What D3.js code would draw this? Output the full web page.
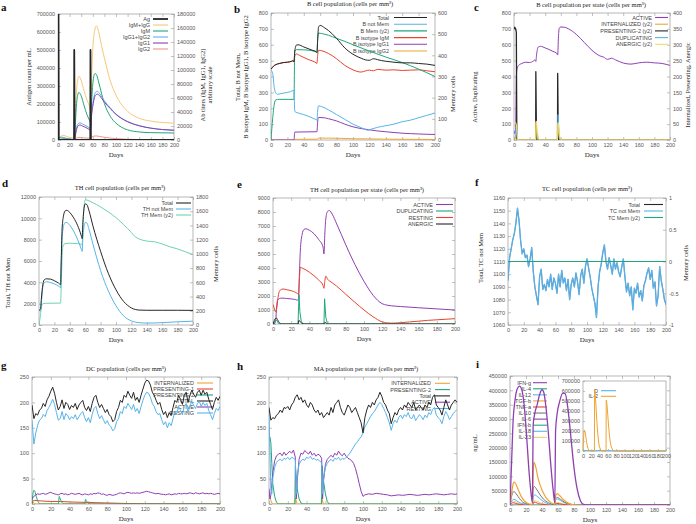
<!DOCTYPE html>
<html>
<head>
<meta charset="utf-8">
<script src="https://cdn.jsdelivr.net/npm/d3@7"></script>
<style>
  body { margin: 0; background: #fff; }
  svg text { font-family: "Liberation Sans", Arial, sans-serif; }
  .serif { font-family: "Liberation Serif", "Times New Roman", serif !important; }
</style>
</head>
<body>
<svg id="fig" width="696" height="524"></svg>
<script>
// ---- shared ticks ----
const dayTicks = d3.range(0, 201, 20)
const noisyDays = d3.range(0, 201, 2)

// ---- a: antigen / antibodies (Ab on y2) ----
const aAg = [[0,0],[0.4,700000],[0.9,700000],[1.4,0],[27.7,0],[28,500000],[28.7,0],[55.7,0],[56,500000],[56.7,0],[200,0]]
const aIgMIgG = [[0,0],[3,3500],[6,6000],[10,6500],[15,5000],[20,3800],[27,2600],[28,2500],[30,40000],[33,80000],[36,91000],[40,85000],[45,70000],[50,57000],[55,46000],[56,42000],[58,90000],[60,130000],[63,155000],[66,163000],[70,155000],[75,135000],[80,117000],[90,85000],[100,64000],[110,50000],[120,41000],[140,31000],[160,27000],[180,25000],[200,24000]]
const aIgM = [[0,0],[3,3000],[6,4000],[10,3200],[15,2200],[20,1400],[28,600],[30,25000],[32,52000],[34,64000],[36,68000],[40,63000],[45,49000],[50,36000],[55,27000],[56,25000],[58,55000],[60,80000],[62,92000],[64,95000],[67,92000],[70,83000],[80,52000],[90,34000],[100,24000],[110,18000],[120,14500],[140,11500],[160,10500],[200,10000]]
const aIgG = [[0,0],[5,1200],[10,1500],[20,1000],[28,800],[30,9000],[32,18000],[35,23500],[38,24500],[42,23000],[50,19500],[55,17000],[56,16500],[58,40000],[60,52000],[63,65000],[66,69000],[68,69500],[72,66000],[80,56000],[90,46000],[100,37000],[110,31000],[120,26500],[140,20500],[160,17000],[180,15000],[200,14000]]
const aIgG1 = [[0,0],[5,1000],[10,1200],[20,800],[28,600],[30,7000],[32,15000],[35,20500],[38,21500],[42,20000],[50,17000],[55,14500],[56,14000],[58,36000],[60,48000],[63,61000],[66,65000],[68,65500],[72,63000],[80,54000],[90,45000],[100,36500],[110,30500],[120,26000],[140,20300],[160,16900],[180,14900],[200,13900]]
const aIgG2 = [[0,0],[10,300],[28,200],[30,2000],[34,3300],[38,3500],[45,3000],[55,2500],[56,2400],[58,4000],[62,5500],[66,5800],[72,5000],[80,3800],[100,2000],[120,1000],[150,500],[200,300]]

// ---- b: B cell population ----
const bTotal = [[0,445],[3,465],[6,475],[10,482],[15,488],[20,490],[25,496],[27,500],[28,492],[29,560],[31,598],[33,600],[40,586],[50,566],[55,556],[56,550],[57,640],[58,712],[60,722],[65,708],[70,690],[80,640],[90,580],[100,540],[110,515],[115,505],[120,502],[125,512],[130,506],[135,500],[140,496],[150,490],[160,486],[170,486],[180,482],[190,478],[200,470]]
const bNotMem = [[0,440],[2,420],[4,330],[6,295],[8,288],[12,292],[16,296],[20,300],[24,305],[27,312],[28,310],[29,180],[32,172],[40,160],[50,140],[55,128],[56,125],[57,190],[58,215],[62,210],[70,190],[80,160],[90,130],[100,100],[110,78],[118,62],[122,68],[130,80],[140,90],[150,100],[160,115],[170,125],[180,140],[190,155],[200,170]]
const bMem = [[0,0],[2,100],[4,170],[6,190],[10,192],[28,192],[29,420],[31,427],[40,426],[50,422],[55,416],[56,415],[57,480],[58,505],[65,500],[70,495],[80,480],[90,466],[100,450],[120,420],[140,392],[160,366],[180,335],[190,318],[200,300]]
const bIgM = [[0,445],[3,465],[6,475],[10,481],[15,487],[20,490],[25,495],[27,500],[28,490],[29,530],[31,542],[35,532],[45,508],[55,486],[56,482],[57,540],[58,565],[62,562],[70,545],[80,512],[90,470],[100,442],[105,432],[110,428],[115,435],[120,440],[125,436],[130,445],[140,440],[150,442],[160,438],[170,440],[180,442],[190,436],[200,430]]
const bIgG1 = [[0,0],[28,0],[29,50],[56,52],[57,120],[58,142],[65,140],[70,134],[80,120],[90,100],[100,83],[110,72],[120,64],[130,57],[140,52],[150,47],[160,43],[170,40],[180,38],[190,36],[200,35]]
const bIgG2 = [[0,0],[28,0],[29,4],[56,5],[58,12],[70,12],[100,8],[150,5],[200,3]]

// ---- c: B cell per state ----
const cActive = [[0,60],[1,40],[2,60],[3,400],[4,450],[6,470],[10,482],[15,490],[20,488],[25,498],[27,505],[28,495],[29,540],[31,585],[34,590],[40,580],[50,558],[55,545],[56,535],[57,650],[58,705],[60,712],[65,710],[70,700],[80,665],[90,615],[100,565],[110,530],[115,522],[120,508],[125,515],[130,505],[140,485],[150,478],[160,486],[170,490],[180,486],[190,482],[200,470]]
const cIntern = [[0,0],[0.5,5],[1,10],[2,5],[4,0],[27.8,0],[28,55],[29,30],[31,5],[33,0],[55.8,0],[56,50],[57,25],[59,3],[61,0],[200,0]]
const cPres2 = [[0,350],[1,355],[2,350],[3,340],[3.6,0],[27.8,0],[28,215],[28.8,0],[55.8,0],[56,210],[56.8,0],[200,0]]
const cDup = [[0,0],[2,20],[3,80],[4,10],[5,0],[27.8,0],[28.5,80],[30,10],[31,0],[55.8,0],[56.5,160],[58,20],[59,0],[200,0]]
const cAnergic = [[0,40],[1,50],[2,55],[3,50],[4,20],[5,0],[27.8,0],[28.5,60],[29.5,40],[31,5],[33,0],[55.8,0],[56.5,55],[57.5,35],[59,5],[61,0],[200,0]]

// ---- d: TH cell population ----
const dTotal = [[0,1400],[2,1500],[3,2400],[5,3800],[7,4250],[10,4330],[15,4300],[20,4150],[25,3950],[28,3800],[29,6500],[30,9000],[32,10300],[34,10700],[36,10750],[40,10550],[45,10050],[50,9350],[55,8350],[56,8100],[57,9600],[58,10600],[60,11350],[62,11300],[65,10700],[70,9300],[80,6900],[90,4850],[100,3300],[110,2200],[120,1600],[130,1400],[140,1380],[160,1380],[180,1380],[200,1370]]
const dNotMem = [[0,1400],[2,1300],[3,2000],[5,3600],[7,3980],[10,4050],[15,3980],[20,3850],[25,3680],[28,3500],[29,6000],[30,8000],[32,9300],[34,9600],[36,9600],[40,9350],[45,8800],[50,8050],[55,7100],[56,6900],[57,8200],[58,9000],[60,9600],[62,9580],[65,8950],[70,7600],[80,5100],[90,3200],[100,1800],[110,850],[120,380],[130,220],[140,180],[160,220],[180,300],[200,360]]
const dMem = [[0,0],[2,150],[3,250],[5,300],[8,305],[28,308],[29,600],[30,950],[31,1100],[33,1140],[40,1150],[50,1145],[55,1135],[56,1120],[57,1400],[58,1600],[59,1720],[60,1760],[70,1720],[80,1660],[90,1590],[100,1510],[110,1410],[120,1300],[125,1240],[130,1210],[140,1180],[150,1170],[160,1140],[170,1100],[180,1070],[190,1030],[200,990]]

// ---- e: TH cell per state ----
const eActive = [[0,0],[2,50],[3,300],[4,1200],[5,1700],[7,1820],[10,1850],[15,1820],[20,1790],[25,1740],[27,1700],[28,1720],[29,3500],[30,5200],[32,6400],[34,6750],[36,6800],[40,6700],[45,6450],[50,6050],[55,5500],[56,5000],[57,6500],[58,7500],[60,8050],[62,8100],[65,7850],[70,7150],[80,5650],[90,4250],[100,3050],[110,2050],[120,1450],[125,1350],[130,1300],[140,1250],[160,1160],[180,1080],[200,1000]]
const eDup = [[0,0],[2,150],[3,300],[4,250],[6,50],[8,0],[27.5,0],[28,1000],[28.6,2100],[29.5,900],[31,200],[33,0],[56,0],[56.7,1800],[58,500],[59.5,100],[61,0],[200,0]]
const eResting = [[0,1400],[2,1000],[3,850],[4,1100],[6,2100],[8,2420],[11,2500],[15,2450],[20,2380],[25,2250],[27,2170],[28,2100],[29,3200],[30,4050],[32,4000],[36,3870],[40,3700],[45,3450],[50,3150],[55,2750],[56,2550],[57,3100],[58,3420],[60,3200],[65,2950],[70,2700],[80,2120],[90,1550],[100,1000],[110,520],[120,150],[125,80],[130,60],[140,90],[150,150],[160,200],[170,260],[180,300],[190,340],[200,380]]
const eAnergic = [[0,0],[1,150],[2,350],[4,420],[5,300],[7,100],[9,0],[27.5,0],[28.5,260],[30,150],[32,40],[34,0],[56,0],[57,120],[59,30],[61,0],[200,0]]

// ---- f: TC cell population (every 2 days) ----
const fNotMem = [1095,1113,1120,1127,1132,1140,1152,1142,1126,1116,1120,1113,1115,1106,1112,1121,1102,1090,1083,1076,
  1098,1104,1088,1092,1087,1096,1090,1100,1088,1097,1093,1085,1100,1090,1103,1093,1097,1087,1096,1080,
  1092,1097,1090,1101,1094,1084,1099,1104,1093,1106,1112,1105,1098,1089,1083,1077,1066,1090,1102,1108,
  1117,1123,1110,1104,1113,1107,1100,1112,1104,1109,1102,1098,1106,1112,1098,1086,1093,1083,1090,1072,
  1089,1085,1093,1082,1087,1079,1091,1095,1101,1105,1096,1103,1089,1094,1075,1083,1106,1095,1088,1080,1076]
const fTotal = fNotMem
const fMem = [[0,0],[200,0]]

// ---- g: DC population (every 2 days) ----
const gTotal = [195,168,178,175,185,188,198,192,205,212,222,230,218,200,185,192,205,188,200,196,
  186,194,190,198,186,195,200,204,190,184,192,182,198,210,214,200,190,196,188,180,
  186,176,172,162,166,182,190,204,200,214,210,222,214,208,220,204,210,200,214,226,
  238,244,242,234,220,214,204,196,200,186,176,182,170,180,174,190,204,200,214,206,
  196,214,220,200,214,224,216,210,220,224,214,224,216,220,206,196,186,200,210,204,212]
const gResting = [165,118,140,155,165,168,176,172,184,190,198,206,196,180,165,168,182,166,178,174,
  166,172,168,176,166,172,178,182,170,162,170,160,176,188,192,178,168,174,166,158,
  164,156,152,144,148,162,168,182,178,192,188,198,192,186,196,182,188,178,192,204,
  214,220,218,210,198,192,182,176,178,166,156,162,150,160,154,168,182,178,192,184,
  176,192,198,180,192,202,194,188,198,202,192,200,194,198,184,176,166,178,188,184,192]
const gActive = [10,15,18,20,19,20,21,19,20,22,23,21,20,19,18,20,21,19,20,18,
  19,21,20,19,20,21,19,18,20,19,18,20,19,21,20,22,21,19,20,18,
  17,19,18,17,18,19,21,22,21,20,22,23,22,21,22,21,22,21,22,23,
  24,25,24,23,22,21,20,21,20,19,19,18,19,20,18,19,20,19,21,20,
  20,21,20,21,22,21,20,22,21,20,21,22,20,21,20,21,20,19,20,21,20]
const gPres2 = [[0,0],[1,20],[2,27],[3,25],[5,12],[7,3],[9,0],[28,0],[29,15],[30,10],[32,3],[34,0],[56,0],[57,9],[58,6],[60,1],[62,0],[200,0]]
const gPres1 = [[0,0],[1,6],[3,7],[10,6],[20,5],[30,5],[40,4],[60,3],[80,2],[100,1],[120,0.5],[200,0]]
const gIntern = [[0,0],[1,4],[2,2],[4,0],[200,0]]

// ---- h: MA population per state ----
const hTotal = [190,165,170,168,175,178,185,180,190,188,192,185,195,200,210,215,205,210,200,205,
  195,190,200,195,185,180,185,175,180,170,175,180,175,190,180,195,200,205,190,180,
  175,185,195,190,180,185,190,180,170,160,140,170,185,195,190,200,195,205,210,220,
  212,200,195,185,178,158,170,180,175,185,190,185,195,190,200,195,190,200,185,190,
  195,190,185,195,190,200,195,210,215,195,190,185,175,190,205,195,185,195,200,205,200]
const hResting = [[0,185],[1,100],[2,30],[3,20],[4,50],[6,72],[8,82],[10,86],[12,88],[14,85],[16,90],[18,88],[20,92],[22,87],[24,92],[26,90],[28,88],[29,20],[30,55],[32,78],[34,85],[36,88],[38,86],[40,92],[42,90],[44,94],[46,88],[48,90],[50,86],[52,88],[54,84],[56,82],[57,20],[58,50],[60,72],[62,80],[64,85],[66,88],[68,84],[70,90],[72,88],[74,92],[76,86],[78,90],[80,88],[82,92],[84,95],[86,100],[88,106],[90,112],[92,118],[94,122],[96,128],[98,132],[100,140],[102,152],[104,158],[106,165],[108,172],[110,178],[112,182],[114,188],[116,195],[118,200],[120,196],[122,188],[124,180],[126,170],[128,160],[130,145],[132,158],[134,165],[136,160],[138,170],[140,175],[142,168],[144,176],[146,172],[148,180],[150,170],[152,168],[154,176],[156,164],[158,170],[160,176],[162,172],[164,166],[166,175],[168,170],[170,180],[172,176],[174,186],[176,190],[178,175],[180,170],[182,166],[184,158],[186,172],[188,182],[190,176],[192,166],[194,172],[196,178],[198,182],[200,186]]
const hActive = [[0,30],[1,10],[2,18],[4,60],[6,85],[8,95],[10,98],[12,100],[14,95],[16,102],[18,96],[20,100],[22,104],[24,100],[26,106],[28,92],[29,10],[30,45],[32,88],[34,100],[36,98],[38,105],[40,102],[42,98],[44,104],[46,96],[48,100],[50,94],[52,98],[54,96],[56,90],[57,10],[58,45],[60,78],[62,88],[64,92],[66,96],[68,92],[70,100],[72,96],[74,104],[76,98],[78,95],[80,100],[82,94],[84,90],[86,88],[88,85],[90,80],[92,70],[94,56],[96,40],[98,25],[100,15],[102,18],[106,20],[110,19],[114,21],[118,20],[122,19],[126,18],[130,16],[134,17],[138,18],[142,17],[146,18],[150,19],[154,18],[158,17],[162,18],[166,19],[170,18],[174,19],[178,20],[182,19],[186,18],[190,19],[194,20],[198,19],[200,20]]
const hPres2 = [[0,130],[1,132],[2,120],[3,80],[4,40],[6,15],[8,3],[10,0],[27.5,0],[28,75],[29,50],[30,30],[32,10],[34,2],[36,0],[56,0],[56.5,75],[58,45],[60,20],[62,5],[64,0],[200,0]]
const hIntern = [[0,15],[1,12],[3,2],[5,0],[27.5,0],[28,12],[30,0],[55.5,0],[56,12],[58,0],[200,0]]

// ---- i: cytokines ----
const iIFNg = [[0,0],[2,150000],[4,300000],[6,360000],[9,405000],[12,415000],[15,400000],[18,340000],[21,230000],[24,110000],[27,25000],[28,8000],[29,280000],[31,320000],[34,350000],[37,385000],[40,402000],[42,395000],[45,340000],[48,250000],[51,140000],[54,50000],[56,8000],[57,260000],[59,320000],[62,360000],[66,390000],[69,388000],[72,345000],[76,240000],[80,130000],[84,55000],[88,15000],[92,2000],[96,0],[200,0]]
const iTGFb = [[0,0],[2,40000],[4,75000],[5,80000],[7,75000],[10,55000],[14,30000],[18,14000],[22,6000],[27,2000],[28,2000],[29,120000],[30,150000],[32,135000],[35,95000],[40,52000],[45,26000],[50,11000],[55,4000],[56,3000],[57,30000],[59,40000],[62,33000],[66,21000],[70,11000],[76,3000],[84,0],[200,0]]
const iIL10 = [[0,0],[3,40000],[5,47000],[8,38000],[12,22000],[16,10000],[22,3000],[28,500],[29,55000],[30,65000],[33,56000],[37,38000],[42,20000],[48,8000],[55,1000],[56,500],[57,22000],[59,26000],[63,20000],[68,10000],[75,3000],[82,0],[200,0]]
const iIL12 = [[0,0],[3,17000],[5,20000],[8,15000],[14,6000],[22,1500],[28,0],[29,28000],[31,35000],[35,28000],[40,16000],[46,6000],[55,500],[56,0],[57,18000],[59,21000],[63,16000],[68,8000],[76,2000],[84,0],[200,0]]
const iTNFa = [[0,0],[4,8000],[10,3000],[28,0],[30,10000],[38,3000],[56,0],[58,6000],[66,2000],[80,0],[200,0]]
const iIL23 = [[0,0],[5,12000],[12,4000],[28,0],[31,15000],[40,5000],[56,0],[59,8000],[70,2000],[85,0],[200,0]]
const iZero = [[0,0],[200,0]]
const insetD = [[0,0],[3,5000],[10,4000],[20,3000],[28,2000],[35,4000],[56,3000],[70,2000],[100,500],[200,0]]
const insetIL2 = [[0,0],[2,180000],[3,210000],[5,195000],[7,140000],[9,80000],[12,25000],[15,5000],[18,0],[27.5,0],[28,610000],[29,590000],[31,470000],[33,320000],[36,150000],[39,50000],[43,8000],[47,0],[55.5,0],[56,510000],[57,500000],[59,400000],[62,230000],[65,110000],[68,40000],[72,8000],[76,0],[200,0]]

// ---- colours ----
const C = {
  black: '#262626', blue: '#56b4e9', green: '#1fa77b', red: '#e8432e', purple: '#8e3fb2',
  orange: '#f0a532', yellow: '#ece06a', lorange: '#f6c878', salmon: '#f4938a', mint: '#6fd3b0', grey: '#777'
}

const svg = d3.select('#fig')
const zip = (xs, ys) => xs.map((d, i) => [d, ys[i]])
let clipId = 0

function styleAxis(sel) {
  sel.select('.domain').remove()
  sel.attr('font-size', 5.5).attr('font-family', '"Liberation Sans", Arial, sans-serif')
  sel.selectAll('line').attr('stroke', '#999').attr('stroke-width', 0.6)
  sel.selectAll('text').attr('fill', '#555')
}

function drawAxes(g, x, y, l, t, r, b, yTicks, y2, y2Ticks) {
  const lab = d => String(d)
  g.append('g').attr('transform', `translate(0,${b})`)
    .call(d3.axisBottom(x).tickValues(dayTicks).tickSize(-3).tickPadding(3).tickFormat(lab)).call(styleAxis)
  g.append('g').attr('transform', `translate(0,${t})`)
    .call(d3.axisTop(x).tickValues(dayTicks).tickSize(-3).tickFormat('')).call(styleAxis)
  g.append('g').attr('transform', `translate(${l},0)`)
    .call(d3.axisLeft(y).tickValues(yTicks).tickSize(-3).tickPadding(3).tickFormat(lab)).call(styleAxis)
  if (y2) {
    g.append('g').attr('transform', `translate(${r},0)`)
      .call(d3.axisRight(y2).tickValues(y2Ticks).tickSize(-3).tickPadding(3).tickFormat(lab)).call(styleAxis)
  } else {
    g.append('g').attr('transform', `translate(${r},0)`)
      .call(d3.axisRight(y).tickValues(yTicks).tickSize(-3).tickFormat('')).call(styleAxis)
  }
}

function legend(g, lg) {
  lg.items.forEach((it, i) => {
    const yy = lg.y + i * lg.step
    g.append('text').attr('x', lg.tx).attr('y', yy + 2).attr('text-anchor', 'end')
      .attr('font-size', 5.5).attr('fill', '#444').text(it.label)
    g.append('line').attr('x1', lg.lx1).attr('x2', lg.lx2).attr('y1', yy).attr('y2', yy)
      .attr('stroke', it.color).attr('stroke-width', it.w || 1.1)
  })
}

function serifText(x, y, txt, size, opts = {}) {
  const t = svg.append('text').attr('class', 'serif').attr('x', x).attr('y', y)
    .attr('font-size', size).attr('fill', opts.fill || '#222')
    .attr('text-anchor', opts.anchor || 'middle').text(txt)
  if (opts.rotate) t.attr('transform', `rotate(-90,${x},${y})`)
  if (opts.bold) t.attr('font-weight', 'bold')
  return t
}

function panel(o) {
  const g = svg.append('g')
  const x = d3.scaleLinear().domain([0, 200]).range([o.l, o.r])
  const y = d3.scaleLinear().domain(o.yDom).range([o.b, o.t])
  const y2 = o.y2Dom ? d3.scaleLinear().domain(o.y2Dom).range([o.b, o.t]) : null
  const id = 'clip' + (clipId++)
  g.append('clipPath').attr('id', id).append('rect')
    .attr('x', o.l).attr('y', o.t).attr('width', o.r - o.l).attr('height', o.b - o.t)
  g.append('rect').attr('x', o.l).attr('y', o.t).attr('width', o.r - o.l).attr('height', o.b - o.t)
    .attr('fill', '#fff').attr('stroke', '#999').attr('stroke-width', 0.7)
  drawAxes(g, x, y, o.l, o.t, o.r, o.b, o.yTicks, y2, o.y2Ticks)
  if (o.legend) legend(g, o.legend)
  const lines = g.append('g').attr('clip-path', `url(#${id})`)
  o.series.forEach(s => {
    const ys = s.y2 ? y2 : y
    const line = d3.line().x(d => x(d[0])).y(d => ys(d[1])).curve(s.curve || d3.curveMonotoneX)
    lines.append('path').datum(s.data).attr('d', line).attr('fill', 'none')
      .attr('stroke', s.color).attr('stroke-width', s.w || 1).attr('stroke-linejoin', 'round')
  })
  // texts
  serifText((o.l + o.r) / 2, o.b + 17, 'Days', 7)
  if (o.title) serifText(o.title[0], o.title[1], o.title[2], 6.5)
  serifText(o.letter[0], o.letter[1], o.letter[2], 11, { anchor: 'start', bold: true, fill: '#111' })
  ;(o.ylabels || []).forEach(yl => serifText(yl[0], yl[1], yl[2], 6.5, { rotate: true }))
  return { g, x, y, y2 }
}

const lin = d3.curveLinear

// a
panel({
  l: 58, t: 14, r: 174, b: 140,
  yDom: [0, 700000], yTicks: d3.range(0, 700001, 100000),
  y2Dom: [0, 180000], y2Ticks: d3.range(0, 180001, 20000),
  letter: [1, 11, 'a'],
  ylabels: [[31, 77, 'Antigen count per mL'], [205, 85, 'Ab titers (IgM, IgG1, IgG2)'], [212, 85, 'arbitrary scale']],
  legend: { tx: 150, lx1: 153, lx2: 168, y: 19, step: 6, items: [
    { label: 'Ag', color: C.black, w: 1.8 }, { label: 'IgM+IgG', color: C.lorange }, { label: 'IgM', color: C.green },
    { label: 'IgG1+IgG2', color: C.blue }, { label: 'IgG1', color: C.purple }, { label: 'IgG2', color: C.salmon }] },
  series: [
    { data: aIgG2, color: C.salmon, y2: true },
    { data: aIgMIgG, color: C.lorange, y2: true },
    { data: aIgM, color: C.green, y2: true },
    { data: aIgG, color: C.blue, y2: true },
    { data: aIgG1, color: C.purple, y2: true },
    { data: aAg, color: C.black, w: 1.8, curve: lin }
  ]
})

// b
panel({
  l: 271, t: 13, r: 435, b: 140,
  yDom: [0, 800], yTicks: d3.range(0, 801, 100),
  y2Dom: [0, 600], y2Ticks: d3.range(0, 601, 100),
  letter: [234, 13, 'b'],
  title: [350, 6, 'B cell population (cells per mm³)'],
  ylabels: [[240, 77, 'Total, B not Mem,'], [248, 77, 'B isotype IgM, B isotype IgG1, B isotype IgG2'], [455, 94, 'Memory cells']],
  legend: { tx: 389, lx1: 394, lx2: 427, y: 17.5, step: 6.7, items: [
    { label: 'Total', color: C.black }, { label: 'B not Mem', color: C.blue }, { label: 'B Mem (y2)', color: C.green },
    { label: 'B isotype IgM', color: C.red }, { label: 'B isotype IgG1', color: C.purple }, { label: 'B isotype IgG2', color: C.orange }] },
  series: [
    { data: bIgG2, color: C.orange },
    { data: bIgG1, color: C.purple },
    { data: bIgM, color: C.red },
    { data: bMem, color: C.green, y2: true },
    { data: bNotMem, color: C.blue },
    { data: bTotal, color: C.black }
  ]
})

// c
panel({
  l: 514, t: 13, r: 670, b: 140,
  yDom: [0, 800], yTicks: d3.range(0, 801, 100),
  y2Dom: [0, 400], y2Ticks: d3.range(0, 401, 50),
  letter: [474, 11, 'c'],
  title: [591, 7, 'B cell population per state (cells per mm³)'],
  ylabels: [[477, 97, 'Active, Duplicating'], [690, 85, 'Internalized, Presenting, Anergic']],
  legend: { tx: 652, lx1: 655, lx2: 668, y: 17.5, step: 6.7, items: [
    { label: 'ACTIVE', color: C.purple }, { label: 'INTERNALIZED (y2)', color: C.orange },
    { label: 'PRESENTING-2 (y2)', color: C.black }, { label: 'DUPLICATING', color: C.blue }, { label: 'ANERGIC (y2)', color: C.yellow }] },
  series: [
    { data: cActive, color: C.purple },
    { data: cPres2, color: C.black, y2: true, curve: lin, w: 1.3 },
    { data: cDup, color: C.blue, curve: lin },
    { data: cIntern, color: C.orange, y2: true, curve: lin },
    { data: cAnergic, color: C.yellow, y2: true, curve: lin }
  ]
})

// d
panel({
  l: 39, t: 197, r: 193, b: 325,
  yDom: [0, 12000], yTicks: d3.range(0, 12001, 2000),
  y2Dom: [0, 1800], y2Ticks: d3.range(0, 1801, 200),
  letter: [2, 187, 'd'],
  title: [120, 190, 'TH cell population (cells per mm³)'],
  ylabels: [[10, 283, 'Total, TH not Mem'], [218, 264, 'Memory cells']],
  legend: { tx: 173, lx1: 176, lx2: 191, y: 203, step: 6, items: [
    { label: 'Total', color: C.black }, { label: 'TH not Mem', color: C.blue }, { label: 'TH Mem (y2)', color: C.mint }] },
  series: [
    { data: dMem, color: C.mint, y2: true },
    { data: dNotMem, color: C.blue },
    { data: dTotal, color: C.black }
  ]
})

// e
panel({
  l: 273, t: 198, r: 455, b: 324,
  yDom: [0, 9000], yTicks: d3.range(0, 9001, 1000),
  letter: [237, 188, 'e'],
  title: [367, 192, 'TH cell population per state (cells  per mm³)'],
  legend: { tx: 433, lx1: 436, lx2: 453, y: 204.5, step: 6.5, items: [
    { label: 'ACTIVE', color: C.purple }, { label: 'DUPLICATING', color: C.green },
    { label: 'RESTING', color: C.red }, { label: 'ANERGIC', color: C.black }] },
  series: [
    { data: eActive, color: C.purple },
    { data: eResting, color: C.red },
    { data: eDup, color: C.green, curve: lin },
    { data: eAnergic, color: C.black }
  ]
})

// f
panel({
  l: 508, t: 198, r: 666, b: 325,
  yDom: [1060, 1160], yTicks: d3.range(1060, 1161, 10),
  y2Dom: [-1, 1], y2Ticks: [-1, -0.5, 0, 0.5, 1],
  letter: [475, 186, 'f'],
  title: [587, 191, 'TC cell population (cells  per mm³)'],
  ylabels: [[483, 258, 'Total, TC not Mem'], [688, 263, 'Memory cells']],
  legend: { tx: 640, lx1: 644, lx2: 663, y: 204.5, step: 6.5, items: [
    { label: 'Total', color: C.black }, { label: 'TC not Mem', color: C.blue }, { label: 'TC Mem (y2)', color: C.green }] },
  series: [
    { data: zip(noisyDays, fTotal), color: '#3d8fc8', curve: lin, w: 1.3 },
    { data: zip(noisyDays, fNotMem), color: '#6cbfec', curve: lin, w: 0.7 },
    { data: fMem, color: C.green, y2: true, curve: lin, w: 1.2 }
  ]
})

// g
panel({
  l: 32, t: 377, r: 220, b: 504,
  yDom: [0, 250], yTicks: d3.range(0, 251, 50),
  letter: [1, 369, 'g'],
  title: [126, 371, 'DC population (cells per mm³)'],
  legend: { tx: 194, lx1: 197, lx2: 213, y: 383, step: 6, items: [
    { label: 'INTERNALIZED', color: C.orange }, { label: 'PRESENTING-1', color: C.red }, { label: 'PRESENTING-2', color: C.green },
    { label: 'TOTAL', color: C.black }, { label: 'ACTIVE', color: C.purple }, { label: 'RESTING', color: C.blue }] },
  series: [
    { data: gIntern, color: C.orange, curve: lin },
    { data: gPres1, color: C.red },
    { data: gPres2, color: C.green },
    { data: zip(noisyDays, gActive), color: C.purple, curve: lin },
    { data: zip(noisyDays, gResting), color: C.blue, curve: lin },
    { data: zip(noisyDays, gTotal), color: C.black, curve: lin }
  ]
})

// h
panel({
  l: 269, t: 377, r: 457, b: 504,
  yDom: [0, 250], yTicks: d3.range(0, 251, 50),
  letter: [237, 370, 'h'],
  title: [366, 371, 'MA population per state (cells per mm³)'],
  legend: { tx: 431, lx1: 435, lx2: 450, y: 383.3, step: 6.3, items: [
    { label: 'INTERNALIZED', color: C.orange }, { label: 'PRESENTING-2', color: C.green },
    { label: 'Total', color: C.black }, { label: 'ACTIVE', color: C.purple }, { label: 'RESTING', color: C.blue }] },
  series: [
    { data: hIntern, color: C.orange, curve: lin },
    { data: hPres2, color: C.green, curve: lin },
    { data: hActive, color: C.purple, curve: lin },
    { data: hResting, color: C.blue, curve: lin },
    { data: zip(noisyDays, hTotal), color: C.black, curve: lin }
  ]
})

// i
panel({
  l: 510, t: 376, r: 670, b: 505,
  yDom: [0, 450000], yTicks: d3.range(0, 450001, 50000),
  letter: [476, 368, 'i'],
  ylabels: [[477, 443, 'ng/mL']],
  legend: { tx: 531, lx1: 533, lx2: 547, y: 382.7, step: 6.07, items: [
    { label: 'IFN-g', color: C.purple }, { label: 'IL-4', color: C.green }, { label: 'IL-12', color: C.blue },
    { label: 'TGF-b', color: C.orange }, { label: 'TNF-a', color: C.red }, { label: 'IL-10', color: C.grey },
    { label: 'IL-6', color: C.purple }, { label: 'IFN-b', color: C.green }, { label: 'IL-18', color: C.blue },
    { label: 'IL-23', color: C.lorange }] },
  series: [
    { data: iZero, color: C.green },
    { data: iIL23, color: C.lorange },
    { data: iTNFa, color: C.red },
    { data: iIL12, color: C.blue },
    { data: iIL10, color: C.grey },
    { data: iTGFb, color: C.orange, w: 1.2 },
    { data: iIFNg, color: C.purple, w: 1.3 }
  ]
})

// inset of i
{
  const l = 583, t = 381, r = 666, b = 451
  const g = svg.append('g')
  const x = d3.scaleLinear().domain([0, 200]).range([l, r])
  const y = d3.scaleLinear().domain([0, 700000]).range([b, t])
  g.append('rect').attr('x', l).attr('y', t).attr('width', r - l).attr('height', b - t)
    .attr('fill', '#fff').attr('stroke', '#999').attr('stroke-width', 0.7)
  const lab = d => String(d)
  g.append('g').attr('transform', `translate(0,${b})`)
    .call(d3.axisBottom(x).tickValues(dayTicks).tickSize(-2).tickPadding(3).tickFormat(lab)).call(styleAxis)
  g.append('g').attr('transform', `translate(${l},0)`)
    .call(d3.axisLeft(y).tickValues(d3.range(0, 700001, 100000)).tickSize(-2).tickPadding(3).tickFormat(lab)).call(styleAxis)
  legend(g, { tx: 598, lx1: 601, lx2: 616, y: 390.7, step: 5.6, items: [
    { label: 'D', color: C.blue }, { label: 'IL-2', color: C.orange }] })
  const line = d3.line().x(d => x(d[0])).y(d => y(d[1])).curve(d3.curveLinear)
  g.append('path').datum(insetD).attr('d', line).attr('fill', 'none').attr('stroke', C.blue).attr('stroke-width', 1)
  g.append('path').datum(insetIL2).attr('d', line).attr('fill', 'none').attr('stroke', C.orange).attr('stroke-width', 1)
}
</script>
</body>
</html>
